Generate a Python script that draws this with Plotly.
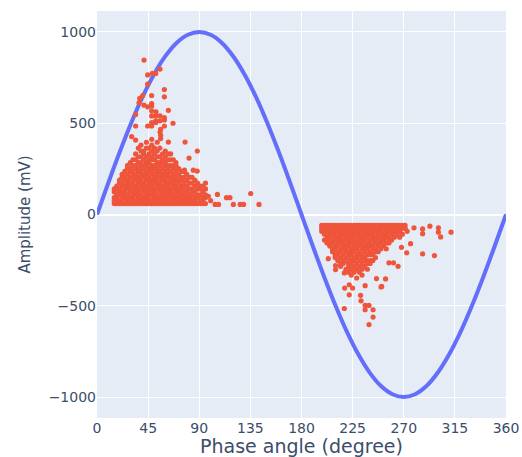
import plotly.graph_objects as go

# Reference supply voltage, sampled every 10 degrees (mV)
wave_phase = list(range(0, 361, 10))
wave_amp = [0, 174, 342, 500, 643, 766, 866, 940, 985, 1000, 985, 940, 866, 766, 643, 500,
            342, 174, 0, -174, -342, -500, -643, -766, -866, -940, -985, -1000, -985, -940,
            -866, -766, -643, -500, -342, -174, 0]

# Positive half-cycle discharges: phase columns and the amplitudes recorded in each
pos_col_phase = [15.2, 17.4, 19.8, 22.1, 24.5, 26.8, 29.3, 31.6, 34.0, 36.4, 38.7, 41.1,
                 43.5, 45.8, 48.2, 50.6, 53.0, 55.3, 57.7, 60.1, 62.4, 64.8, 67.2, 69.5,
                 71.9, 74.3, 76.6, 79.0, 81.4, 83.7, 86.1, 88.5, 90.8, 93.2, 95.5]
pos_col_amp = [
    [60, 76, 92, 124, 140],
    [60, 76, 92, 108, 140, 156],
    [60, 76, 108, 124, 140, 172, 188],
    [60, 76, 92, 108, 124, 156, 172, 204, 220],
    [60, 92, 108, 124, 140, 156, 188, 204, 236],
    [60, 76, 92, 108, 140, 156, 172, 188, 220, 252, 268],
    [60, 76, 92, 124, 140, 156, 172, 204, 236, 252, 284],
    [60, 76, 92, 108, 124, 156, 172, 188, 220, 236, 268, 300],
    [60, 76, 108, 124, 140, 156, 188, 204, 220, 252, 268, 300, 332],
    [60, 76, 92, 108, 124, 140, 172, 188, 204, 236, 252, 284, 316, 364],
    [60, 76, 92, 108, 140, 156, 172, 188, 220, 236, 268, 284, 316, 348, 380],
    [60, 76, 92, 124, 140, 156, 172, 204, 220, 252, 268, 300, 332, 348],
    [60, 76, 92, 108, 124, 140, 156, 188, 204, 220, 236, 268, 284, 316, 364, 396],
    [60, 76, 92, 108, 124, 156, 172, 188, 204, 236, 252, 284, 300, 332, 364],
    [60, 76, 108, 124, 140, 156, 172, 188, 220, 236, 252, 268, 300, 316, 348, 380, 412],
    [60, 76, 92, 108, 124, 140, 172, 188, 204, 220, 252, 268, 300, 332, 364],
    [60, 76, 92, 108, 140, 156, 172, 188, 204, 236, 252, 284, 316, 348, 396],
    [60, 76, 92, 124, 140, 156, 172, 204, 220, 236, 268, 284, 316, 364],
    [60, 76, 92, 108, 124, 140, 156, 188, 204, 220, 252, 284, 300, 332],
    [60, 76, 92, 108, 124, 156, 172, 188, 220, 236, 268, 284, 316, 348],
    [60, 76, 108, 124, 140, 156, 172, 204, 220, 252, 268, 300, 332],
    [60, 76, 92, 108, 124, 140, 172, 188, 204, 236, 268, 300, 332],
    [60, 76, 92, 108, 140, 156, 172, 188, 220, 252, 268, 300],
    [60, 76, 92, 124, 140, 156, 188, 204, 236, 268, 284],
    [60, 76, 92, 108, 124, 140, 172, 188, 220, 252],
    [60, 76, 108, 124, 140, 156, 188, 204, 236],
    [60, 76, 92, 108, 124, 156, 172, 204, 236],
    [60, 76, 92, 124, 140, 156, 188, 220],
    [60, 76, 92, 108, 140, 172, 204],
    [60, 76, 108, 124, 140, 172, 204],
    [60, 76, 92, 124, 156, 188],
    [60, 92, 108, 140, 172],
    [60, 76, 108, 140, 156],
    [60, 76, 92, 124, 156],
    [60, 92, 108, 140, 172],
]
# Isolated positive-cycle pulses
pos_extra_phase = [41.4, 44.6, 48.7, 51.7, 55.5, 44.6, 59.3, 59.3, 40.2, 48.1, 37.6, 41.4, 37,
                   48.1, 48.1, 44.6, 51.9, 48.1, 62.8, 34, 48.1, 51.7, 55.5, 59.3, 59.3, 55.5,
                   51.7, 48.1, 51.7, 66.9, 34, 44.6, 48.1, 59.3, 55.5, 56, 56, 56, 30.5, 34,
                   77.5, 62.8, 81, 88.3, 84.8, 88.2, 77, 106, 114, 117, 135.3, 104, 107,
                   120, 126, 129, 142.6, 98, 100]
pos_extra_amp = [846, 765, 773, 773, 797, 714, 685, 645, 652, 652, 636, 599, 612, 608, 595,
                 590, 562, 568, 571, 548, 540, 540, 540, 531, 518, 513, 513, 504, 504, 500,
                 485, 485, 485, 485, 452, 467, 434, 416, 427, 408, 397, 397, 309, 348, 243,
                 238, 243, 110, 92, 92, 115, 55, 55, 55, 55, 55, 55, 100, 76]

# Negative half-cycle discharges
neg_col_phase = [197.8, 200.2, 202.5, 204.9, 207.3, 209.6, 212.0, 214.4, 216.7, 219.1,
                 221.5, 223.8, 226.2, 228.6, 230.9, 233.3, 235.7, 238.0, 240.4, 242.8,
                 245.1, 247.5, 249.9, 252.2, 254.6, 257.0, 259.3, 261.7, 264.1, 266.4,
                 268.8, 271.2]
neg_col_amp = [
    [-60, -76, -92],
    [-60, -76, -92, -108, -140],
    [-60, -76, -92, -124, -140, -156],
    [-60, -76, -92, -108, -124, -156, -172],
    [-60, -76, -92, -108, -140, -156, -188, -204],
    [-60, -76, -92, -108, -124, -140, -172, -188, -220, -236],
    [-60, -76, -92, -124, -140, -156, -172, -204, -220, -252],
    [-60, -76, -92, -108, -124, -140, -156, -188, -204, -236, -268, -284],
    [-60, -76, -92, -108, -140, -156, -172, -188, -220, -252, -268],
    [-60, -76, -92, -108, -124, -140, -172, -188, -204, -236, -252, -300],
    [-60, -76, -92, -124, -140, -156, -172, -204, -220, -236, -268, -284, -316],
    [-60, -76, -92, -108, -124, -140, -156, -188, -204, -220, -252, -268, -300, -332],
    [-60, -76, -92, -108, -124, -156, -172, -188, -204, -236, -252, -284, -316],
    [-60, -76, -92, -108, -140, -156, -172, -188, -220, -236, -268, -300, -348],
    [-60, -76, -92, -108, -124, -140, -156, -172, -204, -220, -252, -284, -316],
    [-60, -76, -92, -124, -140, -156, -172, -188, -220, -236, -268, -300, -332],
    [-60, -76, -92, -108, -124, -140, -172, -188, -204, -236, -252, -284],
    [-60, -76, -92, -108, -124, -156, -172, -188, -220, -252, -268, -300],
    [-60, -76, -92, -108, -140, -156, -172, -204, -220, -252, -268],
    [-60, -76, -92, -108, -124, -140, -172, -188, -220, -252],
    [-60, -76, -92, -124, -140, -156, -188, -204, -236],
    [-60, -76, -92, -108, -124, -156, -172, -204],
    [-60, -76, -92, -108, -140, -156, -188],
    [-60, -76, -108, -124, -140, -172],
    [-60, -76, -92, -108, -124, -156, -188],
    [-60, -76, -92, -124, -140, -156],
    [-60, -76, -92, -108, -140],
    [-60, -76, -92, -124],
    [-60, -76, -92, -108],
    [-60, -76, -92, -124],
    [-60, -76, -108],
    [-60, -76],
]
# Isolated negative-cycle pulses
neg_extra_phase = [293, 300.5, 300.5, 311.6, 302.5, 286.6, 286.6, 279, 273, 286.6, 297, 272.6,
                   265, 257, 261, 254, 250.6, 246, 222, 232, 232.4, 217.7, 236, 239.4, 236,
                   243, 243, 239.4, 218, 225, 250, 236, 203.6, 210, 210, 217.7, 222, 276, 268]
neg_extra_amp = [-64, -73, -97, -97, -123, -79, -105, -73, -92, -216, -225, -210, -284, -265,
                 -265, -353, -394, -351, -440, -443, -473, -515, -498, -498, -522, -522, -562,
                 -603, -403, -403, -397, -390, -242, -280, -302, -320, -385, -160, -180]

pd_phase, pd_amp = [], []
for ph, amps in zip(pos_col_phase + neg_col_phase, pos_col_amp + neg_col_amp):
    pd_phase += [ph] * len(amps)
    pd_amp += amps
pd_phase += pos_extra_phase + neg_extra_phase
pd_amp += pos_extra_amp + neg_extra_amp

fig = go.Figure()
fig.add_trace(go.Scatter(
    x=wave_phase, y=wave_amp, mode="lines",
    line=dict(color="#636EFA", width=4, shape="spline"),
    showlegend=False,
))
fig.add_trace(go.Scatter(
    x=pd_phase, y=pd_amp, mode="markers",
    marker=dict(color="#EF553B", size=5.2, symbol="circle"),
    showlegend=False,
))

text_color = "#3b4d6b"
axis_font = dict(family="DejaVu Sans", size=14, color=text_color)
fig.update_layout(
    width=522, height=457,
    margin=dict(l=97, r=16, t=11, b=39),
    paper_bgcolor="white",
    plot_bgcolor="#E5ECF6",
    xaxis=dict(
        range=[0, 360], tickvals=[0, 45, 90, 135, 180, 225, 270, 315, 360],
        showgrid=True, gridcolor="white", gridwidth=1, zeroline=False,
        tickfont=axis_font, automargin=False,
        title=dict(text="Phase angle (degree)", standoff=6,
                   font=dict(family="DejaVu Sans", size=19, color=text_color)),
    ),
    yaxis=dict(
        range=[-1115, 1115], tickvals=[-1000, -500, 0, 500, 1000],
        showgrid=True, gridcolor="white", gridwidth=1,
        zeroline=True, zerolinecolor="white", zerolinewidth=2,
        tickfont=axis_font, automargin=False,
        title=dict(text="Amplitude (mV)", standoff=14,
                   font=dict(family="DejaVu Sans", size=15, color=text_color)),
    ),
)

fig.write_html("out.html")
